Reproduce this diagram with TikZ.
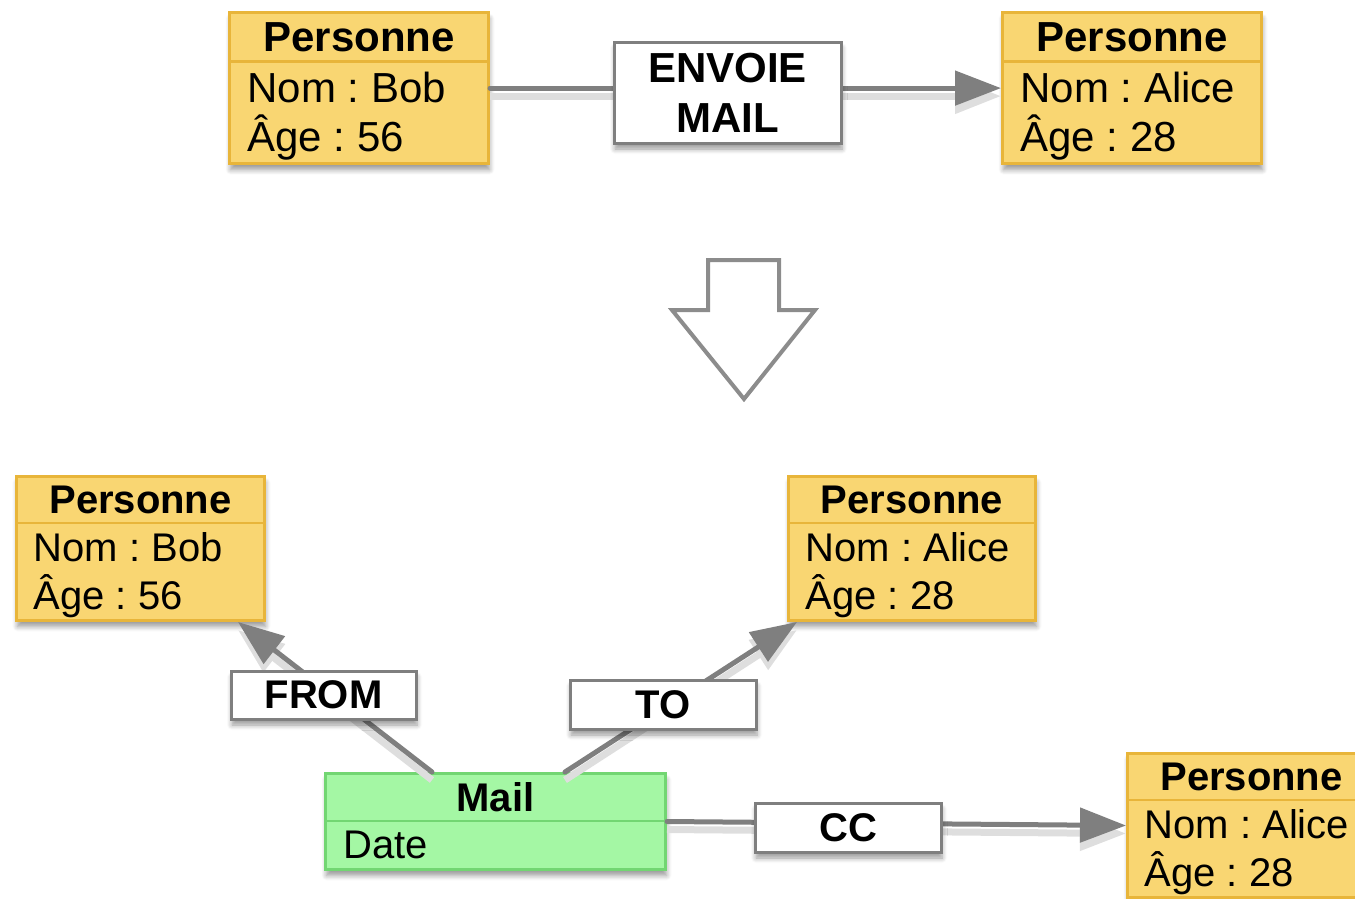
\documentclass[tikz,border=0pt]{standalone}
\usepackage{fontspec}
\setmainfont{Liberation Sans}
\usetikzlibrary{arrows.meta,calc,shadows.blur}
\frenchspacing
\definecolor{persFill}{HTML}{F9D672}
\definecolor{persEdge}{HTML}{E8B53A}
\definecolor{mailFill}{HTML}{A4F7A4}
\definecolor{mailEdge}{HTML}{72D672}
\definecolor{connGray}{HTML}{7F7F7F}
\definecolor{bigArrow}{HTML}{8C8C8C}

\tikzset{
  softshadow/.style={blur shadow={shadow xshift=1pt, shadow yshift=-6pt,
      shadow blur radius=5pt, shadow blur steps=6, shadow opacity=40}},
  entity/.style={draw=persEdge, fill=persFill, line width=3pt, inner sep=0pt, softshadow},
  entity rule/.style={draw=persEdge, line width=2.5pt},
  mailbox/.style={draw=mailEdge, fill=mailFill, line width=3pt, inner sep=0pt, softshadow},
  mail rule/.style={draw=mailEdge, line width=2.5pt},
  etext/.style={inner sep=0pt},
  relbox/.style={draw=connGray, fill=white, line width=3pt, inner sep=0pt, softshadow,
      font=\fontsize{40}{40}\selectfont\bfseries},
  conn/.style={draw=connGray, line width=5pt, line cap=round},
  connarrow/.style={conn, -{Triangle[length=46pt,width=34pt]}},
  connshade/.style={draw=black!13, line width=7pt, transform canvas={yshift=-8pt}},
  connshadearrow/.style={connshade, -{Triangle[length=46pt,width=34pt]}},
}

% entity box: name, left, top, width, font size, name value, age value
\newcommand\personbox[7]{%
  \node[entity, anchor=north west, minimum width=#4pt, minimum height=3.6*#5pt] (#1) at (#2,#3) {};
  \draw[entity rule] ([yshift=-1.2*#5pt]#1.north west) -- ([yshift=-1.2*#5pt]#1.north east);
  \node[etext, font=\fontsize{#5}{#5}\selectfont\bfseries, anchor=base] (#1-title)
    at ([yshift=-0.97*#5pt]#1.north) {Personne};
  \node[etext, font=\fontsize{#5}{#5}\selectfont, anchor=base west] (#1-nom)
    at ([xshift=0.46*#5pt, yshift=-2.17*#5pt]#1.north west) {Nom : #6};
  \node[etext, font=\fontsize{#5}{#5}\selectfont, anchor=base west] (#1-age)
    at ([xshift=0.46*#5pt, yshift=-3.35*#5pt]#1.north west) {Âge : #7};
}

\begin{document}
\begin{tikzpicture}[x=1pt, y=-1pt]
\useasboundingbox (0,0) rectangle (1355,898);
\clip (0,0) rectangle (1355,898);

% ---------- upper model: relation as an edge ----------
\personbox{bobA}{228}{11}{259}{42}{Bob}{56}
\personbox{aliceA}{1001}{11}{259}{42}{Alice}{28}

% ---------- transformation arrow ----------
\draw[draw=bigArrow, fill=white, line width=4pt, line join=miter]
  (708,260) -- (779,260) -- (779,310) -- (815,310) -- (744,399) -- (672,310) -- (708,310) -- cycle;

% ---------- lower model: relation as a node ----------
\personbox{bobB}{15}{475}{248}{40}{Bob}{56}
\personbox{aliceB}{787}{475}{247}{40}{Alice}{28}
\personbox{aliceC}{1126}{752}{248}{40}{Alice}{28}

\node[mailbox, anchor=north west, minimum width=340pt, minimum height=96pt] (mail) at (324,772) {};
\draw[mail rule] ([yshift=-49pt]mail.north west) -- ([yshift=-49pt]mail.north east);
\node[etext, font=\fontsize{40}{40}\selectfont\bfseries, anchor=base] (mail-title)
  at ([yshift=-39pt]mail.north) {Mail};
\node[etext, font=\fontsize{40}{40}\selectfont, anchor=base west] (mail-date)
  at ([xshift=19pt, yshift=-86pt]mail.north west) {Date};

% relation label of the upper model (placed first so the connectors can refer to it)
\coordinate (envoie-pos) at (727.5,92.5);
\path (envoie-pos) node[minimum width=227pt, minimum height=101pt, inner sep=0pt] (envoie-area) {};

% connector shadows
\draw[connshade] (bobA.east) -- (envoie-area.west |- bobA.east);
\draw[connshadearrow] (envoie-area.east |- aliceA.west) -- (aliceA.west);
\draw[connshadearrow] ($(mail.north west)+(108,0)$) -- ($(bobB.south east)+(-28,0)$);
\draw[connshadearrow] ($(mail.north west)+(241,0)$) -- ($(aliceB.south west)+(10,0)$);
\draw[connshadearrow] (mail.east) -- (aliceC.west);

% connectors
\draw[conn] (bobA.east) -- (envoie-area.west |- bobA.east);
\draw[connarrow] (envoie-area.east |- aliceA.west) -- (aliceA.west);
\draw[connarrow] ($(mail.north west)+(108,0)$) -- ($(bobB.south east)+(-28,0)$);
\draw[connarrow] ($(mail.north west)+(241,0)$) -- ($(aliceB.south west)+(10,0)$);
\draw[connarrow] (mail.east) -- (aliceC.west);

% relation labels sitting on the connectors
\node[relbox, font=\fontsize{42}{50}\selectfont\bfseries, align=center,
      minimum width=227pt, minimum height=101pt] (envoie) at (envoie-pos) {ENVOIE\\MAIL};
\node[relbox, minimum width=185pt, minimum height=48pt] (from) at (323.5,695) {FROM};
\node[relbox, minimum width=186pt, minimum height=49pt] (to) at (663,704.5) {TO};
\node[relbox, minimum width=186pt, minimum height=49pt] (cc) at (848,827.5) {CC};
\end{tikzpicture}
\end{document}
